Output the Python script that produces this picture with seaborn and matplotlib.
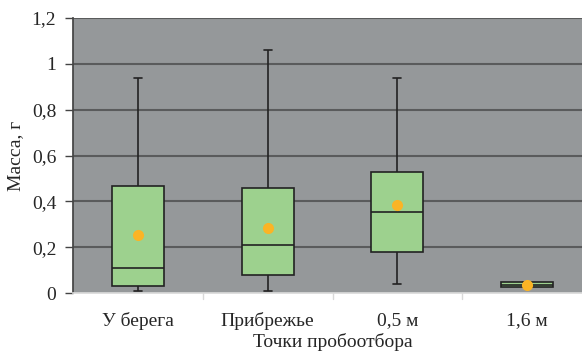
import numpy as np
import pandas as pd
import matplotlib
matplotlib.use("Agg")
import matplotlib.pyplot as plt
import seaborn as sns

categories = ["У берега", "Прибрежье", "0,5 м", "1,6 м"]
whisk_low = [0.01, 0.01, 0.04, 0.025]
q1 = [0.03, 0.08, 0.18, 0.028]
median = [0.11, 0.21, 0.355, 0.037]
q3 = [0.467, 0.46, 0.53, 0.047]
whisk_high = [0.94, 1.06, 0.94, 0.05]
means = [0.255, 0.284, 0.385, 0.037]
yticks = [0, 0.2, 0.4, 0.6, 0.8, 1.0, 1.2]
ytick_labels = ["0", "0,2", "0,4", "0,6", "0,8", "1", "1,2"]

rows = []
for c, a, b, m, d, e in zip(categories, whisk_low, q1, median, q3, whisk_high):
    for v in (a, b, m, d, e):
        rows.append({"cat": c, "val": v})
df = pd.DataFrame(rows)
mdf = pd.DataFrame({"cat": categories, "val": means})

sns.set_theme(style="white")
plt.rcParams["font.family"] = ["Liberation Serif", "DejaVu Serif"]

fs = 14
fig = plt.figure(figsize=(5.82, 3.53), dpi=100)
ax = fig.add_axes([73/582, 1-293/353, (592-73)/582, 275/353])
ax.set_facecolor("#95989a")

edge = "#222222"
sns.boxplot(data=df, x="cat", y="val", order=categories, whis=(0, 100),
            width=0.4, color="#9dd18e", linecolor=edge, linewidth=1.2,
            saturation=1, showfliers=False, capwidths=0.06, ax=ax, zorder=3,
            boxprops=dict(facecolor="#9dd18e", edgecolor=edge))
sns.stripplot(data=mdf, x="cat", y="val", order=categories, jitter=False,
              color="#fbb425", size=8, linewidth=0, ax=ax, zorder=5)

ax.set_ylim(0, 1.2)
ax.set_xlim(-0.5, 3.5)
ax.set_yticks(yticks)
ax.set_yticklabels(ytick_labels, fontsize=fs)
for y in yticks[1:]:
    ax.axhline(y, color="#5a5b5c", lw=1.5, zorder=1)
ax.set_xticks([0, 1, 2, 3])
ax.set_xticklabels(categories, fontsize=fs)
ax.tick_params(axis="x", length=0, pad=14)
ax.tick_params(axis="y", length=6, width=1, color="#444444", pad=6, left=True)
for xb in [0.5, 1.5, 2.5]:
    ax.plot([xb, xb], [0, -0.02], color="#d9d9d9", lw=1, clip_on=False,
            transform=ax.get_xaxis_transform())
for s in ["top", "right"]:
    ax.spines[s].set_visible(False)
ax.spines["left"].set_color("#444444")
ax.spines["bottom"].set_color("#d9d9d9")
ax.set_xlabel("Точки пробоотбора", fontsize=fs)
ax.set_ylabel("Масса, г", fontsize=fs)
ax.xaxis.set_label_coords((333-73)/(592-73), -(333-293)/275)
ax.yaxis.set_label_coords(-(73-24)/519, 0.5)

fig.savefig("out.png", dpi=100)
